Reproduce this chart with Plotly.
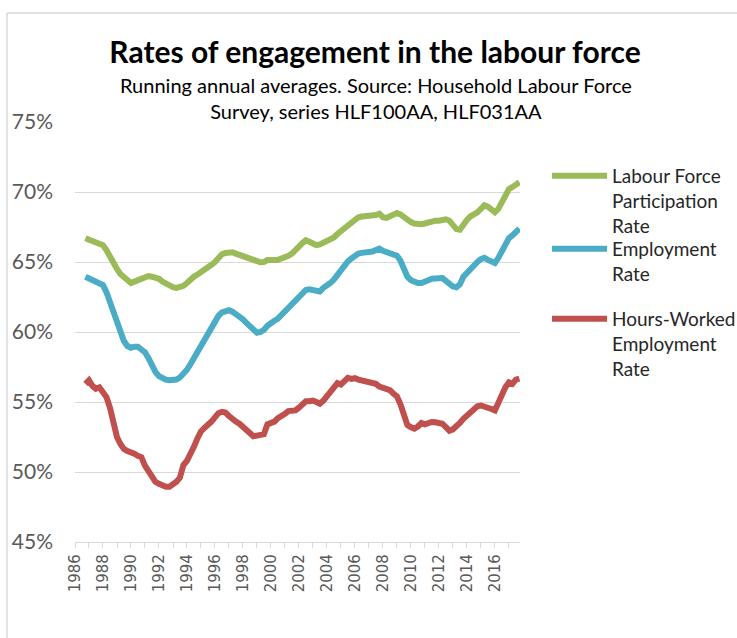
import pandas as pd
import plotly.graph_objects as go

# Running annual averages, one value per quarter, Sep 1986 .. Sep 2017 (%)
# rows = calendar year of the quarter end (Mar, Jun, Sep, Dec)
participation = [
    66.7, 66.6,                    # 1986
    66.5, 66.45, 66.35, 66.2,      # 1987
    65.85, 65.35, 64.9, 64.5,      # 1988
    64.15, 63.9, 63.65, 63.5,      # 1989
    63.6, 63.7, 63.8, 63.95,       # 1990
    64.0, 63.95, 63.9, 63.8,       # 1991
    63.6, 63.45, 63.35, 63.2,      # 1992
    63.15, 63.2, 63.3, 63.5,       # 1993
    63.75, 63.95, 64.1, 64.25,     # 1994
    64.45, 64.6, 64.8, 65.0,       # 1995
    65.25, 65.55, 65.65, 65.7,     # 1996
    65.7, 65.6, 65.5, 65.45,       # 1997
    65.35, 65.2, 65.1, 65.0,       # 1998
    64.98, 65.0, 65.15, 65.15,     # 1999
    65.1, 65.15, 65.25, 65.3,      # 2000
    65.45, 65.6, 65.8, 66.1,       # 2001
    66.35, 66.55, 66.45, 66.3,     # 2002
    66.2, 66.25, 66.35, 66.45,     # 2003
    66.55, 66.75, 67.0, 67.2,      # 2004
    67.45, 67.7, 67.8, 68.0,       # 2005
    68.2, 68.25, 68.25, 68.3,      # 2006
    68.3, 68.35, 68.45, 68.2,      # 2007
    68.15, 68.3, 68.45, 68.5,      # 2008
    68.4, 68.2, 67.95, 67.85,      # 2009
    67.75, 67.7, 67.7, 67.75,      # 2010
    67.85, 67.9, 67.95, 67.95,     # 2011
    68.05, 68.05, 67.95, 67.6,     # 2012
    67.35, 67.3, 67.7, 68.0,       # 2013
    68.25, 68.35, 68.55, 68.8,     # 2014
    69.05, 68.95, 68.7, 68.55,     # 2015
    68.8, 69.3, 69.8, 70.2,        # 2016
    70.35, 70.5, 70.7,             # 2017
]

employment = [
    63.95, 63.85,                  # 1986
    63.75, 63.65, 63.55, 63.35,    # 1987
    62.85, 62.1, 61.3, 60.7,       # 1988
    60.0, 59.35, 59.0, 58.88,      # 1989
    58.95, 58.95, 58.75, 58.55,    # 1990
    58.15, 57.6, 57.15, 56.85,     # 1991
    56.7, 56.6, 56.55, 56.55,      # 1992
    56.6, 56.75, 57.0, 57.3,       # 1993
    57.7, 58.15, 58.6, 59.05,      # 1994
    59.55, 60.0, 60.45, 60.85,     # 1995
    61.15, 61.4, 61.5, 61.55,      # 1996
    61.45, 61.3, 61.1, 60.9,       # 1997
    60.65, 60.45, 60.2, 59.95,     # 1998
    60.0, 60.15, 60.45, 60.7,      # 1999
    60.8, 60.95, 61.2, 61.45,      # 2000
    61.67, 61.95, 62.2, 62.5,      # 2001
    62.75, 63.0, 63.05, 63.0,      # 2002
    62.9, 62.9, 63.15, 63.3,       # 2003
    63.5, 63.75, 64.1, 64.45,      # 2004
    64.75, 65.05, 65.25, 65.45,    # 2005
    65.6, 65.65, 65.65, 65.7,      # 2006
    65.75, 65.85, 65.95, 65.8,     # 2007
    65.7, 65.65, 65.6, 65.45,      # 2008
    65.1, 64.5, 63.95, 63.7,       # 2009
    63.55, 63.5, 63.5, 63.55,      # 2010
    63.7, 63.8, 63.85, 63.9,       # 2011
    63.85, 63.65, 63.45, 63.25,    # 2012
    63.2, 63.4, 63.95, 64.25,      # 2013
    64.5, 64.8, 65.0, 65.2,        # 2014
    65.3, 65.15, 65.05, 64.93,     # 2015
    65.3, 65.75, 66.3, 66.7,       # 2016
    66.9, 67.1, 67.38,             # 2017
]

hours_employment = [
    56.3, 56.55,                   # 1986
    56.15, 55.95, 56.05, 55.75,    # 1987
    55.35, 54.6, 53.6, 52.5,       # 1988
    52.0, 51.65, 51.5, 51.45,      # 1989
    51.3, 51.15, 51.05, 50.45,     # 1990
    50.0, 49.65, 49.3, 49.15,      # 1991
    49.0, 48.95, 48.95, 49.1,      # 1992
    49.3, 49.6, 50.5, 50.8,        # 1993
    51.2, 51.8, 52.4, 52.9,        # 1994
    53.15, 53.35, 53.6, 53.9,      # 1995
    54.2, 54.3, 54.25, 54.0,       # 1996
    53.75, 53.6, 53.45, 53.25,     # 1997
    53.0, 52.75, 52.55, 52.6,      # 1998
    52.62, 52.7, 53.4, 53.5,       # 1999
    53.6, 53.85, 53.95, 54.15,     # 2000
    54.35, 54.35, 54.4, 54.6,      # 2001
    54.9, 55.05, 55.05, 55.1,      # 2002
    55.0, 54.88, 55.1, 55.4,       # 2003
    55.7, 56.0, 56.35, 56.25,      # 2004
    56.45, 56.72, 56.65, 56.7,     # 2005
    56.6, 56.55, 56.45, 56.4,      # 2006
    56.35, 56.3, 56.1, 56.0,       # 2007
    55.95, 55.85, 55.6, 55.4,      # 2008
    54.85, 53.95, 53.35, 53.2,     # 2009
    53.1, 53.25, 53.5, 53.4,       # 2010
    53.5, 53.57, 53.55, 53.5,      # 2011
    53.45, 53.2, 52.95, 53.05,     # 2012
    53.25, 53.5, 53.8, 54.05,      # 2013
    54.3, 54.55, 54.7, 54.75,      # 2014
    54.7, 54.6, 54.5, 54.4,        # 2015
    55.0, 55.6, 56.05, 56.4,       # 2016
    56.3, 56.6, 56.67,             # 2017
]

assert len(participation) == len(employment) == len(hours_employment)

quarters = (
    pd.period_range("1986Q3", periods=len(participation), freq="Q")
    .to_timestamp(how="end")
    .normalize()
)

series = [
    ("Labour Force<br>Participation<br>Rate", participation, "#9BBB59", "legend"),
    ("Employment<br>Rate", employment, "#4BACC6", "legend2"),
    ("Hours-Worked<br>Employment<br>Rate", hours_employment, "#C0504D", "legend3"),
]

# page geometry in pixels (body margin is removed below)
W, H = 737, 638
L, R, T, B = 75, 520, 122, 542   # plot area


def px(x):
    return (x - L) / (R - L)


def py(y):
    return (B - y) / (B - T)


fig = go.Figure()
for name, values, color, leg in series:
    fig.add_trace(go.Scatter(
        x=quarters, y=values, name=name, mode="lines", showlegend=True,
        line=dict(color=color, width=6), legend=leg,
    ))

legend_style = dict(
    xanchor="left", yanchor="top", valign="top", itemwidth=55,
    font=dict(family="Lato", size=19, color="#262626"),
    bgcolor="rgba(0,0,0,0)", tracegroupgap=0,
)

# chart-area frame: only its top and left edges fall inside the page
frame = dict(color="#D9D9D9", width=1.5)

fig.update_layout(
    width=W, height=H,
    margin=dict(l=L, r=W - R, t=T, b=H - B, autoexpand=False),
    paper_bgcolor="white", plot_bgcolor="white",
    font=dict(family="Lato", color="#595959"),
    title=dict(
        text="<b>Rates of engagement in the labour force</b>",
        font=dict(family="Lato", size=30, color="black"),
        x=375 / W, xanchor="center", y=1 - 52 / H, yanchor="middle",
    ),
    xaxis=dict(
        type="date", range=["1986-01-01", "2017-10-16"],
        tick0="1986-01-01", dtick="M24", tickformat="%Y", tickangle=-90,
        ticks="outside", ticklen=5, tickcolor="#D9D9D9",
        minor=dict(dtick="M12", ticks="outside", ticklen=5, tickcolor="#D9D9D9"),
        showline=True, linecolor="#D9D9D9", linewidth=1.3, showgrid=False,
        tickfont=dict(family="DejaVu Sans", size=15, color="#595959"),
    ),
    yaxis=dict(
        range=[45, 75], dtick=5, ticksuffix="%",
        showgrid=True, gridcolor="#D9D9D9", gridwidth=1.3, zeroline=False,
        ticklabelstandoff=21,
        tickfont=dict(family="Lato", size=21, color="#595959"),
    ),
    legend=dict(x=px(547), y=py(157), **legend_style),
    legend2=dict(x=px(547), y=py(230), **legend_style),
    legend3=dict(x=px(547), y=py(300), **legend_style),
    annotations=[dict(
        text="Running annual averages. Source: Household Labour Force<br>"
             "Survey, series HLF100AA, HLF031AA",
        xref="paper", yref="paper", x=px(376), y=py(98),
        xanchor="center", yanchor="middle", showarrow=False,
        font=dict(family="Lato", size=20, color="black"),
    )],
    shapes=[
        dict(type="line", xref="paper", yref="paper", layer="below",
             x0=px(7), x1=px(800), y0=py(13), y1=py(13), line=frame),
        dict(type="line", xref="paper", yref="paper", layer="below",
             x0=px(7), x1=px(7), y0=py(13), y1=py(700), line=frame),
    ],
)

fig.write_html(
    "out.html",
    config={"displayModeBar": False},
    post_script="document.body.style.margin = '0';",
)
